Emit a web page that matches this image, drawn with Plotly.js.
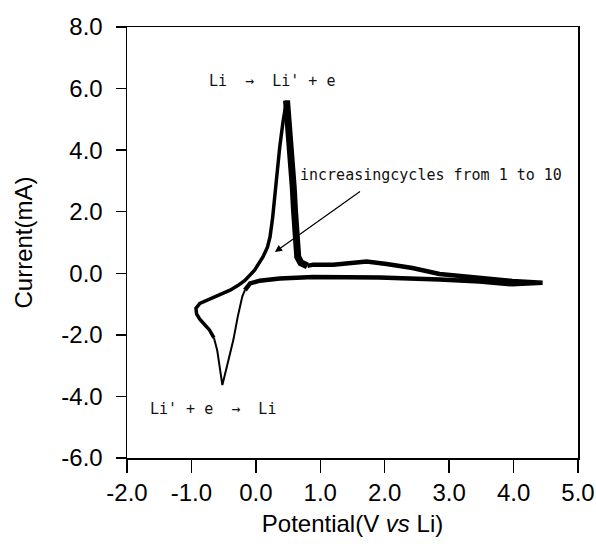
<!DOCTYPE html>
<html>
<head>
<meta charset="utf-8">
<script src="https://cdn.plot.ly/plotly-3.0.1.min.js"></script>
<style>html,body{margin:0;padding:0;background:#fff;}#chart{width:596px;height:559px;}</style>
</head>
<body>
<div id="chart"></div>
<script>
// Anodic scan: from the left turning point, rising edge to the stripping peak
const riseX = [-0.65, -0.72, -0.79, -0.87, -0.92, -0.93, -0.87, -0.78, -0.66, -0.52, -0.40, -0.28, -0.17, -0.02, 0.11, 0.18, 0.22, 0.26, 0.295, 0.33, 0.37, 0.42, 0.476];
const riseY = [-2.10, -1.84, -1.68, -1.49, -1.32, -1.14, -0.98, -0.90, -0.79, -0.68, -0.55, -0.40, -0.23, 0.10, 0.53, 0.85, 1.18, 1.80, 2.59, 3.30, 4.09, 4.90, 5.61];
// Descending side of the stripping peak (multiple cycles overlap -> thick)
const fallX = [0.476, 0.52, 0.55, 0.58, 0.60, 0.62, 0.63, 0.65, 0.70, 0.80];
const fallY = [5.61, 4.60, 3.66, 2.80, 2.04, 1.30, 0.85, 0.53, 0.34, 0.24];
// Upper branch out to 4.45 V and lower (return) branch back to ~0 V
const loopX = [0.80, 0.89, 1.20, 1.50, 1.72, 2.03, 2.43, 2.85, 3.47, 3.98, 4.45,
               3.98, 3.47, 2.85, 1.92, 1.41, 0.89, 0.37, 0.06, -0.09, -0.17];
const loopY = [0.24, 0.28, 0.28, 0.34, 0.38, 0.30, 0.17, -0.02, -0.15, -0.25, -0.31,
               -0.36, -0.27, -0.20, -0.14, -0.12, -0.12, -0.17, -0.24, -0.33, -0.55];
// Cathodic (plating) peak
const redX = [-0.17, -0.21, -0.28, -0.35, -0.44, -0.52, -0.55, -0.60, -0.65];
const redY = [-0.55, -0.75, -1.40, -2.17, -2.95, -3.63, -3.20, -2.50, -2.10];

const xTicks = [-2, -1, 0, 1, 2, 3, 4, 5];
const xTickText = ["-2.0", "-1.0", "0.0", "1.0", "2.0", "3.0", "4.0", "5.0"];
const yTicks = [-6, -4, -2, 0, 2, 4, 6, 8];
const yTickText = ["-6.0", "-4.0", "-2.0", "0.0", "2.0", "4.0", "6.0", "8.0"];

const seg = (x, y, w) => ({x: x, y: y, type: 'scatter', mode: 'lines',
  line: {color: '#000', width: w, shape: 'linear'}, hoverinfo: 'skip', showlegend: false});

const data = [
  seg(redX, redY, 2),
  seg(riseX, riseY, 3.5),
  seg(fallX, fallY, 7),
  seg(loopX, loopY, 4.5)
];

const baseFont = {family: 'Liberation Sans, Arial, sans-serif', size: 24, color: '#000'};
const annFont = {family: 'DejaVu Sans Mono, monospace', size: 15, color: '#111'};

const layout = {
  width: 596, height: 559,
  margin: {l: 127, r: 18, t: 27, b: 101},
  paper_bgcolor: '#fff', plot_bgcolor: '#fff',
  font: baseFont,
  showlegend: false,
  xaxis: {
    range: [-2, 5], tickmode: 'array', tickvals: xTicks, ticktext: xTickText,
    ticks: 'outside', ticklen: 13, tickwidth: 1.5, tickcolor: '#000',
    showline: true, linecolor: '#000', linewidth: 1.5, mirror: true,
    showgrid: false, zeroline: false, tickfont: baseFont,
    title: {text: 'Potential(V <i>vs</i> Li)', font: baseFont, standoff: 10}
  },
  yaxis: {
    range: [-6, 8], tickmode: 'array', tickvals: yTicks, ticktext: yTickText,
    ticks: 'outside', ticklen: 10, tickwidth: 1.5, tickcolor: '#000',
    showline: true, linecolor: '#000', linewidth: 1.5, mirror: true,
    showgrid: false, zeroline: false, tickfont: baseFont, ticklabelstandoff: 8,
    title: {text: 'Current(mA)', font: baseFont, standoff: 22}
  },
  annotations: [
    {x: 0.25, y: 6.25, xref: 'x', yref: 'y', text: "Li  →  Li' + e", showarrow: false, font: annFont},
    {x: -0.67, y: -4.4, xref: 'x', yref: 'y', text: "Li' + e  →  Li", showarrow: false, font: annFont},
    {x: 0.66, y: 3.2, xref: 'x', yref: 'y', xanchor: 'left', text: 'increasingcycles from 1 to 10', showarrow: false, font: annFont},
    {x: 0.295, y: 0.69, xref: 'x', yref: 'y', ax: 1.64, ay: 2.69, axref: 'x', ayref: 'y',
     text: '', showarrow: true, arrowhead: 2, arrowsize: 1.2, arrowwidth: 1.2, arrowcolor: '#000'}
  ]
};

Plotly.newPlot('chart', data, layout, {staticPlot: true, displayModeBar: false});
</script>
</body>
</html>
